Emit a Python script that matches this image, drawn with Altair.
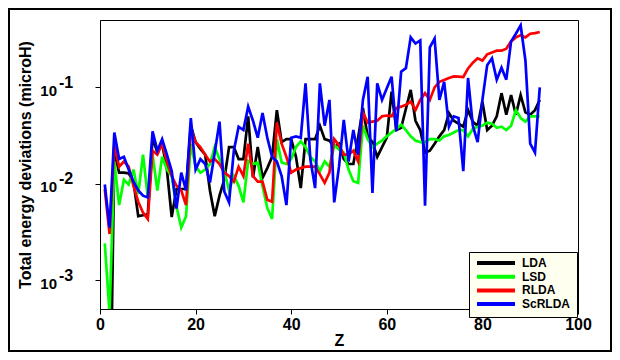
import altair as alt
import pandas as pd

Z = list(range(1, 93))

LDA = [1e-5, 1e-5, 0.022, 0.013, 0.013, 0.0128, 0.0105, 0.0046, 0.0047, 0.0048,
       0.03, 0.021, 0.026, 0.014, 0.0045, 0.0088, 0.0088, 0.0088, 0.04, 0.027,
       0.023, 0.02, 0.0085, 0.0046, 0.0075, 0.011, 0.024, 0.024, 0.018, 0.018,
       0.05, 0.0116, 0.024, 0.0115, 0.0145, 0.019, 0.058, 0.027, 0.029, 0.029,
       0.019, 0.009, 0.029, 0.029, 0.029, 0.04, 0.029, 0.028, 0.024, 0.026,
       0.018, 0.016, 0.016, 0.03, 0.061, 0.031, 0.027, 0.019, 0.024, 0.03,
       0.09, 0.036, 0.038, 0.06, 0.094, 0.045, 0.036, 0.021, 0.022, 0.026,
       0.031, 0.036, 0.054, 0.045, 0.042, 0.039, 0.058, 0.044, 0.04, 0.071,
       0.036, 0.04, 0.05, 0.087, 0.052, 0.083, 0.052, 0.083, 0.055, 0.052,
       0.058, 0.074]

LSD = [0.0024, 0.00045, 0.017, 0.006, 0.011, 0.0098, 0.014, 0.0078, 0.02, 0.0072,
       0.02, 0.0085, 0.019, 0.014, 0.012, 0.0058, 0.0035, 0.0046, 0.026, 0.015,
       0.013, 0.014, 0.016, 0.024, 0.018, 0.0135, 0.0085, 0.012, 0.0095, 0.0064,
       0.0172, 0.016, 0.0166, 0.0094, 0.0056, 0.0043, 0.029, 0.0166, 0.016, 0.018,
       0.024, 0.0275, 0.024, 0.019, 0.017, 0.0135, 0.017, 0.015, 0.025, 0.0226,
       0.021, 0.014, 0.0106, 0.0102, 0.04, 0.029, 0.024, 0.026, 0.028, 0.031,
       0.034, 0.037, 0.041, 0.036, 0.031, 0.028, 0.027, 0.027, 0.029, 0.029,
       0.028, 0.031, 0.032, 0.034, 0.036, 0.036, 0.031, 0.037, 0.039, 0.04,
       0.043, 0.042, 0.038, 0.039, 0.036, 0.04, 0.058, 0.048, 0.044, 0.05,
       0.05, 0.05]

RLDA = [0.0088, 0.003, 0.025, 0.015, 0.017, 0.015, 0.0095, 0.0065, 0.005, 0.0043,
        0.022, 0.02, 0.026, 0.017, 0.012, 0.0095, 0.0085, 0.006, 0.037, 0.027,
        0.024, 0.02, 0.017, 0.018, 0.016, 0.013, 0.012, 0.0105, 0.015, 0.012,
        0.026, 0.012, 0.0105, 0.0105, 0.0068, 0.0065, 0.043, 0.026, 0.019, 0.013,
        0.014, 0.0145, 0.015, 0.015, 0.015, 0.0125, 0.0102, 0.013, 0.029, 0.025,
        0.02, 0.02, 0.022, 0.017, 0.055, 0.043, 0.044, 0.045, 0.05, 0.051,
        0.05, 0.061, 0.063, 0.066, 0.071, 0.058, 0.074, 0.087, 0.074, 0.1,
        0.114, 0.119, 0.125, 0.13, 0.129, 0.128, 0.157, 0.18, 0.2, 0.19,
        0.22, 0.23, 0.24, 0.24, 0.252, 0.3, 0.33, 0.347, 0.33, 0.36,
        0.365, 0.375]

ScRLDA = [0.0098, 0.0035, 0.034, 0.018, 0.019, 0.014, 0.0105, 0.0085, 0.0075, 0.0072,
          0.035, 0.022, 0.029, 0.02, 0.0135, 0.0055, 0.013, 0.0085, 0.048, 0.014,
          0.018, 0.016, 0.0103, 0.021, 0.044, 0.0083, 0.0064, 0.022, 0.039, 0.036,
          0.063, 0.045, 0.03, 0.054, 0.03, 0.019, 0.017, 0.012, 0.006, 0.03,
          0.031, 0.03, 0.11, 0.018, 0.009, 0.11, 0.04, 0.074, 0.0064, 0.015,
          0.046, 0.017, 0.036, 0.02, 0.074, 0.129, 0.008, 0.11, 0.074, 0.098,
          0.129, 0.035, 0.145, 0.158, 0.33, 0.285, 0.307, 0.0059, 0.26, 0.32,
          0.074, 0.114, 0.039, 0.05, 0.048, 0.0135, 0.125, 0.04, 0.027, 0.074,
          0.17, 0.2, 0.12, 0.16, 0.12, 0.3, 0.36, 0.44, 0.19, 0.026,
          0.021, 0.1]

SERIES = ["LDA", "LSD", "RLDA", "ScRLDA"]
COLORS = ["#000000", "#00ff00", "#ff0000", "#0000ff"]
Y_TICKS = [0.001, 0.01, 0.1]
Y_EXPS = ["-3", "-2", "-1"]
X_TICKS = [0, 20, 40, 60, 80, 100]
Y_TITLE = "Total energy deviations (microH)"

FONT = "Liberation Sans"

rows = []
for name, vals in zip(SERIES, [LDA, LSD, RLDA, ScRLDA]):
    for z, v in zip(Z, vals):
        rows.append({"Z": z, "dev": v, "method": name})
df = pd.DataFrame(rows)

yscale = alt.Scale(type="log", domain=[0.0005, 0.5], nice=False)
xscale = alt.Scale(domain=[0, 100], nice=False)

yaxis = alt.Axis(values=Y_TICKS, labels=False, grid=False, tickSize=5,
                 tickColor="black", domainColor="black", title=Y_TITLE,
                 titleFont=FONT, titleFontSize=16, titleFontWeight="bold",
                 titleColor="black", titlePadding=61)

lines = alt.Chart(df).mark_line(strokeWidth=2.7, clip=True).encode(
    x=alt.X("Z:Q", scale=xscale,
            axis=alt.Axis(values=X_TICKS, title="Z", grid=False, tickSize=5,
                          tickColor="black", domainColor="black", labelFlush=False,
                          labelFont=FONT, labelFontSize=16, labelFontWeight="bold",
                          labelColor="black", labelPadding=2,
                          titleFont=FONT, titleFontSize=16, titleFontWeight="bold",
                          titleColor="black", titlePadding=0)),
    y=alt.Y("dev:Q", scale=yscale, axis=yaxis, title=Y_TITLE),
    color=alt.Color("method:N",
                    scale=alt.Scale(domain=SERIES, range=COLORS),
                    sort=SERIES,
                    legend=alt.Legend(title=None, orient="none", legendX=369, legendY=232,
                                      fillColor="#fffff0", strokeColor="black",
                                      padding=6, symbolType="stroke", symbolSize=1444,
                                      symbolStrokeWidth=4, clipHeight=10, rowPadding=1.7,
                                      labelOffset=5, symbolOffset=0,
                                      labelFont=FONT, labelFontSize=12,
                                      labelFontWeight="bold", labelColor="black")),
    order=alt.Order("Z:Q"),
    detail="method:N",
)

tick_df = pd.DataFrame({"v": Y_TICKS, "e": Y_EXPS, "b": ["10"] * 3})

base_lbl = alt.Chart(tick_df).mark_text(
    align="right", baseline="alphabetic", dy=8.7, font=FONT, fontSize=15,
    fontWeight="bold", color="black"
).encode(x=alt.value(-43), y=alt.Y("v:Q", scale=yscale, axis=yaxis, title=Y_TITLE),
         text="b:N")

exp_lbl = alt.Chart(tick_df).mark_text(
    align="left", baseline="alphabetic", dy=0.7, font=FONT, fontSize=16,
    fontWeight="bold", color="black"
).encode(x=alt.value(-41), y=alt.Y("v:Q", scale=yscale, axis=yaxis, title=Y_TITLE),
         text="e:N")

frame = alt.Chart(pd.DataFrame({"a": [0]})).mark_rect(
    filled=False, stroke="black", strokeWidth=2
).encode(x=alt.value(-91), x2=alt.value(511), y=alt.value(-11), y2=alt.value(331))

chart = alt.layer(lines, base_lbl, exp_lbl, frame).properties(
    width=478, height=289,
    autosize=alt.AutoSizeParams(type="none"),
    padding={"left": 92, "top": 12, "right": 34, "bottom": 43},
    background="white",
).configure_view(stroke="black", strokeWidth=1)

chart.save("out.html", embed_options={"renderer": "svg", "actions": False})
